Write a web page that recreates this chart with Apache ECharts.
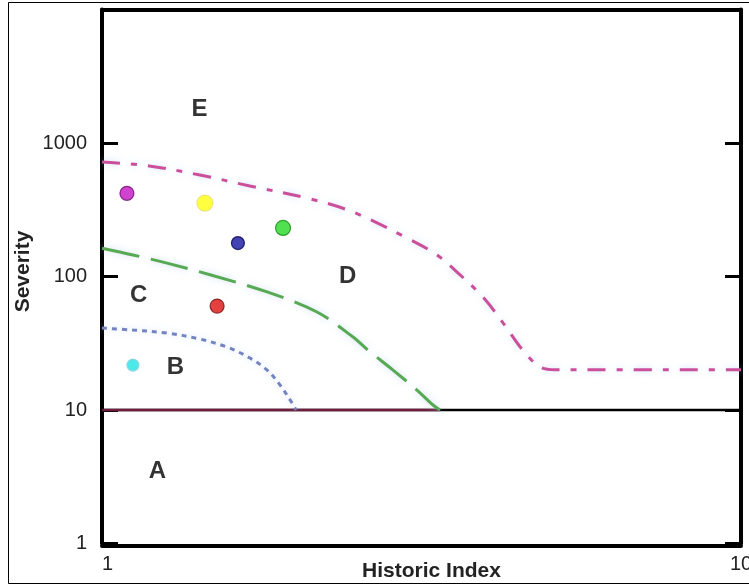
<!DOCTYPE html>
<html>
<head>
<meta charset="utf-8">
<script src="https://cdn.jsdelivr.net/npm/echarts@6/dist/echarts.min.js"></script>
<style>
  html, body { margin: 0; padding: 0; background: #fff; }
  #chart { width: 749px; height: 585px; }
</style>
</head>
<body>
<div id="chart"></div>
<script>
// Tick labels shown on each axis
const xTickLabels = ['1', '10'];
const yTickLabels = ['1', '10', '100', '1000'];

// Boundary curves on the historic index / severity plane
const outerBoundaryX = [1, 1.185, 1.423, 1.704, 2.093, 2.471, 3.002, 3.344, 3.594, 3.947, 4.242, 4.558, 4.847, 5.116, 10];
const outerBoundaryY = [721, 673, 576, 476, 387, 304, 194, 145, 108, 70, 45, 28, 21, 20, 20];

const middleBoundaryX = [1, 1.118, 1.264, 1.476, 1.813, 2.170, 2.471, 2.598, 2.854, 3.111, 3.296, 3.381];
const middleBoundaryY = [163, 145, 126, 103, 76.6, 54.2, 35.2, 28.5, 19.9, 14.1, 10.9, 10];

const innerBoundaryX = [1, 1.118, 1.264, 1.423, 1.569, 1.704, 1.813, 1.899, 1.983, 2.012];
const innerBoundaryY = [41.1, 39.7, 37.7, 34.0, 29.6, 24.5, 19.9, 15.4, 11.3, 10];

// Severity threshold line
const thresholdX = [1, 10];
const thresholdY = [10, 10];
const thresholdLowX = [1, 3.381];

// Observed cases
const caseX = [1.094, 1.449, 1.632, 1.920, 1.514, 1.118];
const caseY = [420, 355, 178, 231, 60, 21.7];

// Zone names
const zoneNames = ['A', 'B', 'C', 'D', 'E'];
const zoneX = [1.221, 1.303, 1.141, 2.423, 1.421];
const zoneY = [3.46, 21.0, 72.7, 100, 1782];

// Marker appearance per case
const caseFill = ['#c414c4', '#ffff10', '#1414a0', '#24d824', '#dc1010', '#22e2e2'];
const caseEdge = ['#6a106a', '#e8e070', '#08084a', '#148a14', '#701010', '#8ad0e0'];
const caseSize = [14, 16, 13, 15, 14, 12];

const zip = (xs, ys) => xs.map((x, i) => [x, ys[i]]);

const FONT = "'Liberation Sans', Arial, sans-serif";
const halo = { shadowColor: 'rgba(160,195,235,0.55)', shadowBlur: 7 };

const chart = echarts.init(document.getElementById('chart'), null, { renderer: 'canvas' });

chart.setOption({
  backgroundColor: '#ffffff',
  animation: false,
  grid: { left: 102, right: 8, top: 9.5, bottom: 41.5, containLabel: false, outerBoundsMode: 'none' },
  xAxis: [
    {
      type: 'log', logBase: 10, min: 1, max: 10, position: 'bottom', offset: 2,
      axisLine: { lineStyle: { color: '#000', width: 4 } },
      axisTick: { show: false },
      splitLine: { show: false },
      axisLabel: {
        color: '#222', fontFamily: FONT, fontSize: 20, margin: 9,
        alignMinLabel: 'left',
        formatter: v => { const s = String(Math.round(v)); return xTickLabels.includes(s) ? s : ''; }
      },
      name: 'Historic Index', nameLocation: 'middle', nameGap: 15, nameMoveOverlap: false,
      nameTextStyle: { color: '#222', fontFamily: FONT, fontSize: 21, fontWeight: 'bold', padding: [0, 0, 0, 20] }
    },
    {
      type: 'log', logBase: 10, min: 1, max: 10, position: 'top',
      axisLine: { lineStyle: { color: '#000', width: 4 } },
      axisTick: { show: false }, axisLabel: { show: false }, splitLine: { show: false }
    }
  ],
  yAxis: [
    {
      type: 'log', logBase: 10, min: 1, max: 10000, position: 'left',
      axisLine: { lineStyle: { color: '#000', width: 4 } },
      axisTick: { inside: true, length: 16, lineStyle: { color: '#000', width: 3 } },
      splitLine: { show: false },
      axisLabel: {
        color: '#222', fontFamily: FONT, fontSize: 20, margin: 15,
        formatter: v => { const s = String(Math.round(v)); return yTickLabels.includes(s) ? s : ''; }
      },
      name: 'Severity', nameLocation: 'middle', nameGap: 68, nameRotate: 90, nameMoveOverlap: false,
      nameTextStyle: { color: '#222', fontFamily: FONT, fontSize: 21, fontWeight: 'bold', padding: [0, 0, 0, 10] }
    },
    {
      type: 'log', logBase: 10, min: 1, max: 10000, position: 'right',
      axisLine: { lineStyle: { color: '#000', width: 4 } },
      axisTick: { inside: true, length: 16, lineStyle: { color: '#000', width: 3 } },
      axisLabel: { show: false }, splitLine: { show: false }
    }
  ],
  graphic: [
    {
      type: 'rect', silent: true, z: -1,
      shape: { x: 8.5, y: 2.5, width: 741, height: 581 },
      style: { fill: 'none', stroke: '#000', lineWidth: 1 }
    }
  ],
  series: [
    {
      type: 'line', name: 'threshold', data: zip(thresholdX, thresholdY),
      symbol: 'none', z: 3,
      lineStyle: { color: '#000', width: 2.5 }
    },
    {
      type: 'line', name: 'threshold-low', data: zip(thresholdLowX, [thresholdY[0], thresholdY[1]]),
      symbol: 'none', z: 4,
      lineStyle: { color: '#6e1e3c', width: 2.5 }
    },
    {
      type: 'line', name: 'outer', data: zip(outerBoundaryX, outerBoundaryY),
      symbol: 'none', smooth: 0.35, z: 5,
      lineStyle: Object.assign({ color: '#cc4f9c', width: 3, type: [18, 11, 6, 11] }, halo)
    },
    {
      type: 'line', name: 'middle', data: zip(middleBoundaryX, middleBoundaryY),
      symbol: 'none', smooth: 0.35, z: 5,
      lineStyle: Object.assign({ color: '#58a954', width: 3, type: [38, 12] }, halo)
    },
    {
      type: 'line', name: 'inner', data: zip(innerBoundaryX, innerBoundaryY),
      symbol: 'none', smooth: 0.35, z: 5,
      lineStyle: Object.assign({ color: '#7483c2', width: 3, type: [5, 5] }, halo)
    },
    {
      type: 'scatter', name: 'cases', z: 8,
      data: caseX.map((x, i) => ({
        value: [x, caseY[i]],
        symbolSize: caseSize[i],
        itemStyle: { color: caseFill[i], borderColor: caseEdge[i], borderWidth: 1.2 }
      }))
    },
    {
      type: 'scatter', name: 'zones', z: 9, symbolSize: 1,
      itemStyle: { color: 'rgba(0,0,0,0)' },
      label: {
        show: true, position: 'inside', formatter: p => p.name,
        color: '#000', fontFamily: FONT, fontSize: 24, fontWeight: 'bold'
      },
      data: zoneNames.map((n, i) => ({ name: n, value: [zoneX[i], zoneY[i]] }))
    }
  ]
});
</script>
</body>
</html>
